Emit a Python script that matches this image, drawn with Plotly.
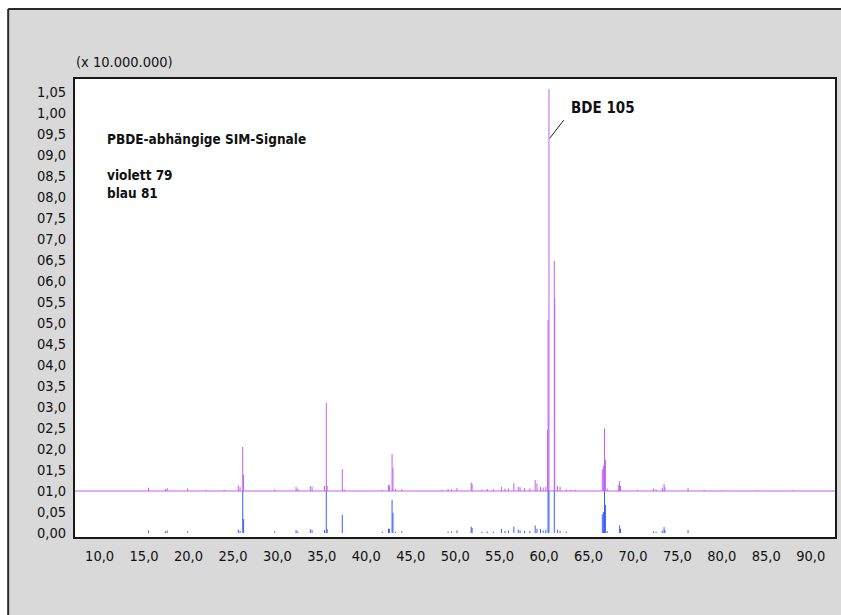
import plotly.graph_objects as go

# ---- data ----
violet_rt = [15.5, 17.4, 17.6, 19.9, 22.0, 24.0, 25.6, 25.8, 26.1, 26.2, 29.7, 32.1, 32.3,
             33.7, 33.9, 35.3, 35.5, 35.6, 37.3, 37.5, 41.8, 42.5, 42.6, 42.9, 43.0, 43.3,
             44.0, 48.5, 49.2, 49.6, 50.2, 51.8, 51.9, 53.0, 53.6, 54.3, 55.2, 55.6, 56.0,
             56.6, 57.1, 57.3, 57.8, 58.4, 59.0, 59.2, 59.6, 59.9, 60.2, 60.4, 60.45, 60.55,
             61.15, 61.2, 61.5, 61.8, 62.5, 63.0, 63.5, 66.55, 66.7, 66.8, 66.9, 67.1, 68.4,
             68.5, 68.6, 70.5, 72.3, 72.6, 73.3, 73.5, 73.6, 76.2, 78.0, 80.0, 84.0, 88.0]
violet_top = [1.08, 1.05, 1.07, 1.06, 1.03, 1.03, 1.13, 1.10, 2.05, 1.39, 1.04, 1.10, 1.06,
              1.12, 1.10, 1.12, 3.10, 1.12, 1.52, 1.04, 1.03, 1.14, 1.14, 1.88, 1.55, 1.05,
              1.05, 1.03, 1.05, 1.04, 1.07, 1.20, 1.17, 1.04, 1.05, 1.04, 1.10, 1.06, 1.06,
              1.19, 1.10, 1.09, 1.07, 1.06, 1.26, 1.18, 1.10, 1.08, 1.10, 2.45, 5.07, 10.57,
              6.48, 5.60, 1.12, 1.10, 1.04, 1.03, 1.03, 1.52, 1.60, 2.49, 1.74, 1.06, 1.15,
              1.24, 1.12, 1.03, 1.06, 1.04, 1.08, 1.17, 1.10, 1.07, 1.03, 1.02, 1.02, 1.02]
violet_base = 1.0

blue_rt = [15.5, 17.4, 17.6, 19.9, 25.6, 25.8, 26.1, 26.2, 29.7, 32.1, 32.3, 33.7, 33.9,
           35.3, 35.5, 35.6, 37.3, 41.8, 42.5, 42.6, 42.9, 43.0, 43.3, 44.0, 49.2, 49.6,
           50.2, 51.8, 51.9, 53.0, 53.6, 54.3, 55.2, 55.6, 56.0, 56.6, 57.1, 57.3, 57.8,
           58.4, 59.0, 59.2, 59.6, 59.9, 60.2, 60.45, 60.55, 61.15, 61.5, 61.8, 62.5,
           66.55, 66.7, 66.8, 66.9, 67.1, 68.5, 68.6, 72.3, 72.6, 73.3, 73.5, 73.6, 76.2]
blue_top = [0.06, 0.04, 0.06, 0.04, 0.08, 0.05, 1.0, 0.33, 0.04, 0.07, 0.04, 0.09, 0.07,
            0.07, 1.0, 0.09, 0.43, 0.03, 0.10, 0.10, 0.79, 0.48, 0.03, 0.04, 0.03, 0.04,
            0.06, 0.15, 0.12, 0.03, 0.04, 0.03, 0.10, 0.05, 0.06, 0.15, 0.08, 0.06, 0.05,
            0.05, 0.18, 0.10, 0.09, 0.06, 0.08, 1.0, 1.0, 1.0, 0.08, 0.05, 0.03,
            0.45, 0.50, 1.0, 0.67, 0.05, 0.18, 0.10, 0.04, 0.03, 0.06, 0.14, 0.07, 0.07]
blue_base = 0.0

y_tickvals = [i * 0.5 for i in range(22)]
y_ticktext = ["0,00", "0,05", "01,0", "01,5", "02,0", "02,5", "03,0", "03,5", "04,0",
              "04,5", "05,0", "05,5", "06,0", "06,5", "07,0", "07,5", "08,0", "08,5",
              "09,0", "09,5", "1,00", "1,05"]
x_tickvals = list(range(10, 95, 5))
x_ticktext = [f"{v},0" for v in x_tickvals]

# ---- figure ----
W, H = 841, 615
L, R, T, B = 75, 4, 79, 78
PW, PH = W - L - R, H - T - B
FONT = "DejaVu Sans Condensed, Liberation Sans Narrow, Arial Narrow, sans-serif"


def px(x):
    return (x - L) / PW


def py(y):
    return (H - B - y) / PH


def sticks(rts, tops, base):
    xs, ys = [], []
    for r, t in zip(rts, tops):
        xs += [r, r, None]
        ys += [base, t, None]
    return xs, ys


fig = go.Figure()
bx, by = sticks(blue_rt, blue_top, blue_base)
fig.add_trace(go.Scatter(x=bx, y=by, mode="lines", line=dict(color="#3a5cff", width=1),
                         hoverinfo="skip", showlegend=False))
vx, vy = sticks(violet_rt, violet_top, violet_base)
fig.add_trace(go.Scatter(x=vx, y=vy, mode="lines", line=dict(color="#c060f0", width=1),
                         hoverinfo="skip", showlegend=False))

frame_col = "#2a2a2a"
shapes = [
    dict(type="rect", xref="paper", yref="paper", x0=px(8), x1=px(W + 20), y0=py(H + 20), y1=py(9),
         fillcolor="#d9d9d9", line=dict(width=0), layer="below"),
    dict(type="line", xref="paper", yref="paper", x0=px(8), x1=px(W + 20), y0=py(9), y1=py(9),
         line=dict(color=frame_col, width=2), layer="below"),
    dict(type="line", xref="paper", yref="paper", x0=px(8), x1=px(8), y0=py(9), y1=py(H + 20),
         line=dict(color=frame_col, width=2), layer="below"),
    dict(type="rect", xref="paper", yref="paper", x0=0, x1=1, y0=0, y1=1,
         fillcolor="white", line=dict(width=0), layer="below"),
    dict(type="line", xref="paper", yref="y", x0=0, x1=1, y0=violet_base, y1=violet_base,
         line=dict(color="#c060f0", width=1.2), layer="above"),
    dict(type="line", xref="x", yref="y", x0=60.64, y0=9.40, x1=62.21, y1=9.83,
         line=dict(color="#222222", width=1)),
]

annotations = [
    dict(text="(x 10.000.000)", xref="paper", yref="paper", x=px(74), y=py(62),
         xanchor="left", yanchor="middle", showarrow=False, font=dict(size=14.5, color="#111")),
    dict(text="<b>PBDE-abhängige SIM-Signale</b>", xref="paper", yref="paper", x=px(105), y=py(139),
         xanchor="left", yanchor="middle", showarrow=False, font=dict(size=13.5, color="#111")),
    dict(text="<b>violett 79</b>", xref="paper", yref="paper", x=px(105), y=py(175),
         xanchor="left", yanchor="middle", showarrow=False, font=dict(size=13.5, color="#111")),
    dict(text="<b>blau 81</b>", xref="paper", yref="paper", x=px(105), y=py(193),
         xanchor="left", yanchor="middle", showarrow=False, font=dict(size=13.5, color="#111")),
    dict(text="<b>BDE 105</b>", xref="paper", yref="paper", x=px(570), y=py(108),
         xanchor="left", yanchor="middle", showarrow=False, font=dict(size=15, color="#111")),
]

fig.update_layout(
    width=W, height=H,
    margin=dict(l=L, r=R, t=T, b=B),
    paper_bgcolor="white",
    plot_bgcolor="white",
    font=dict(family=FONT, size=14, color="#111"),
    shapes=shapes,
    annotations=annotations,
    showlegend=False,
    xaxis=dict(range=[7.23, 92.73], tickvals=x_tickvals, ticktext=x_ticktext,
               showgrid=False, zeroline=False, showline=True, mirror=True,
               linecolor="#1a1a1a", linewidth=2, ticks="outside", ticklen=5,
               tickcolor="rgba(0,0,0,0)", tickfont=dict(size=14.5)),
    yaxis=dict(range=[-0.095, 10.81], tickvals=y_tickvals, ticktext=y_ticktext,
               showgrid=False, zeroline=False, showline=True, mirror=True,
               linecolor="#1a1a1a", linewidth=2, ticks="outside", ticklen=4,
               tickcolor="rgba(0,0,0,0)", tickfont=dict(size=14.5)),
)

fig.write_html("out.html")
